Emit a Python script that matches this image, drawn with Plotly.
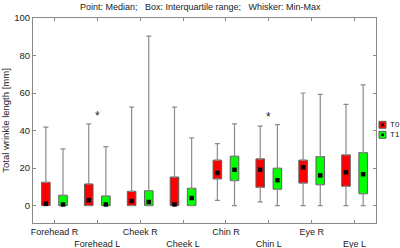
import plotly.graph_objects as go

categories = ["Forehead R", "Forehead L", "Cheek R", "Cheek L", "Chin R", "Chin L", "Eye R", "Eye L"]
groups = ["T0", "T1"]
colors = {"T0": "#ff0000", "T1": "#00ff00"}

t0_min = [0, 0, 0, 0, 2.8, 2.0, 0, 0]
t0_q1 = [0, 0, 0, 0, 14.2, 9.7, 12.0, 10.3]
t0_med = [1.0, 2.9, 2.4, 0.6, 17.4, 19.1, 20.4, 17.7]
t0_q3 = [12.4, 11.5, 7.6, 15.2, 24.2, 24.9, 24.2, 27.0]
t0_max = [41.8, 43.6, 52.5, 52.5, 33.0, 42.3, 60.0, 53.9]

t1_min = [0, 0, 0, 0, 0, 0, 0, 0]
t1_q1 = [0, 0, 0, 0, 13.3, 8.7, 11.1, 6.3]
t1_med = [0.6, 0.6, 1.9, 4.0, 19.1, 13.5, 16.1, 16.7]
t1_q3 = [5.5, 5.1, 7.9, 9.2, 26.3, 19.9, 26.1, 28.2]
t1_max = [30.2, 31.4, 90.3, 36.1, 43.6, 43.2, 59.3, 64.3]

significant = [False, True, False, False, False, True, False, False]

data = {
    "T0": dict(mn=t0_min, q1=t0_q1, med=t0_med, q3=t0_q3, mx=t0_max),
    "T1": dict(mn=t1_min, q1=t1_q1, med=t1_med, q3=t1_q3, mx=t1_max),
}
offsets = {"T0": -0.2, "T1": 0.2}

fig = go.Figure()
whisk = "#8c8c8c"
for g in groups:
    d = data[g]
    xs = [i + offsets[g] for i in range(len(categories))]
    fig.add_trace(go.Scatter(
        x=xs, y=d["q3"], mode="markers", marker=dict(size=1, opacity=0),
        error_y=dict(type="data", symmetric=False,
                     array=[a - b for a, b in zip(d["mx"], d["q3"])],
                     arrayminus=[0] * len(xs), color=whisk, thickness=1.2, width=2.5),
        showlegend=False, hoverinfo="skip"))
    fig.add_trace(go.Scatter(
        x=xs, y=d["q1"], mode="markers", marker=dict(size=1, opacity=0),
        error_y=dict(type="data", symmetric=False,
                     array=[0] * len(xs),
                     arrayminus=[a - b for a, b in zip(d["q1"], d["mn"])],
                     color=whisk, thickness=1.2, width=2.5),
        showlegend=False, hoverinfo="skip"))

for g in groups:
    d = data[g]
    xs = [i + offsets[g] for i in range(len(categories))]
    fig.add_trace(go.Bar(
        x=xs, y=[a - b for a, b in zip(d["q3"], d["q1"])], base=d["q1"], width=0.2,
        marker=dict(color=colors[g], line=dict(color="#606060", width=1)),
        name=g, showlegend=False))

for g in groups:
    d = data[g]
    xs = [i + offsets[g] for i in range(len(categories))]
    fig.add_trace(go.Scatter(
        x=xs, y=d["med"], mode="markers",
        marker=dict(symbol="square", size=4.5, color="black"),
        showlegend=False, hoverinfo="skip"))

for i, s in enumerate(significant):
    if s:
        top = max(t0_max[i], t1_max[i])
        fig.add_annotation(x=i, y=top + 4, text="*", showarrow=False,
                           font=dict(size=12, color="#222"), yanchor="middle")

# manual legend (paper coordinates)
PL, PW, PT, PH = 33, 343, 18, 205
def px(x):
    return (x - PL) / PW
def py(y):
    return (PT + PH - y) / PH
for k, g in enumerate(groups):
    cy = 124.8 + 10 * k
    fig.add_shape(type="rect", xref="paper", yref="paper",
                  x0=px(379), x1=px(386), y0=py(cy + 3.5), y1=py(cy - 3.5),
                  fillcolor=colors[g], line=dict(color="#606060", width=1))
    fig.add_shape(type="rect", xref="paper", yref="paper",
                  x0=px(381.2), x1=px(383.8), y0=py(cy + 1.3), y1=py(cy - 1.3),
                  fillcolor="black", line=dict(width=0))
    fig.add_annotation(xref="paper", yref="paper", x=px(387.5), y=py(cy), text=g,
                       showarrow=False, xanchor="left", yanchor="middle",
                       font=dict(size=8, color="#222"))

ticktext = [c if i % 2 == 0 else "\u00a0<br>" + c for i, c in enumerate(categories)]

fig.add_annotation(
    xref="paper", yref="paper", x=px(200), y=py(7),
    text="Point: Median;\u00a0\u00a0\u00a0Box: Interquartile range;\u00a0\u00a0\u00a0Whisker: Min-Max",
    showarrow=False, font=dict(size=9, color="#222"), yanchor="middle")

fig.update_layout(
    width=400, height=248,
    margin=dict(l=33, r=24, t=18, b=25),
    paper_bgcolor="white", plot_bgcolor="white",
    font=dict(family="Liberation Sans, Arial, sans-serif", size=9, color="#222"),
    barmode="overlay", showlegend=False,
    xaxis=dict(range=[-0.5, 7.5], tickmode="array", tickvals=list(range(len(categories))),
               ticktext=ticktext, tickangle=0, ticks="inside", ticklen=3, tickcolor="#888",
               showline=True, linecolor="#888", linewidth=1, mirror="ticks",
               showgrid=False, zeroline=False, automargin=False,
               tickfont=dict(size=9)),
    yaxis=dict(range=[-9.3, 100], tickvals=[0, 20, 40, 60, 80, 100],
               ticks="inside", ticklen=3, tickcolor="#888",
               showline=True, linecolor="#888", linewidth=1, mirror="ticks",
               showgrid=False, zeroline=False, automargin=False,
               tickfont=dict(size=9.5),
               title=dict(text="Total wrinkle length [mm]", font=dict(size=9.5), standoff=5)),
)

fig.write_html("out.html")
